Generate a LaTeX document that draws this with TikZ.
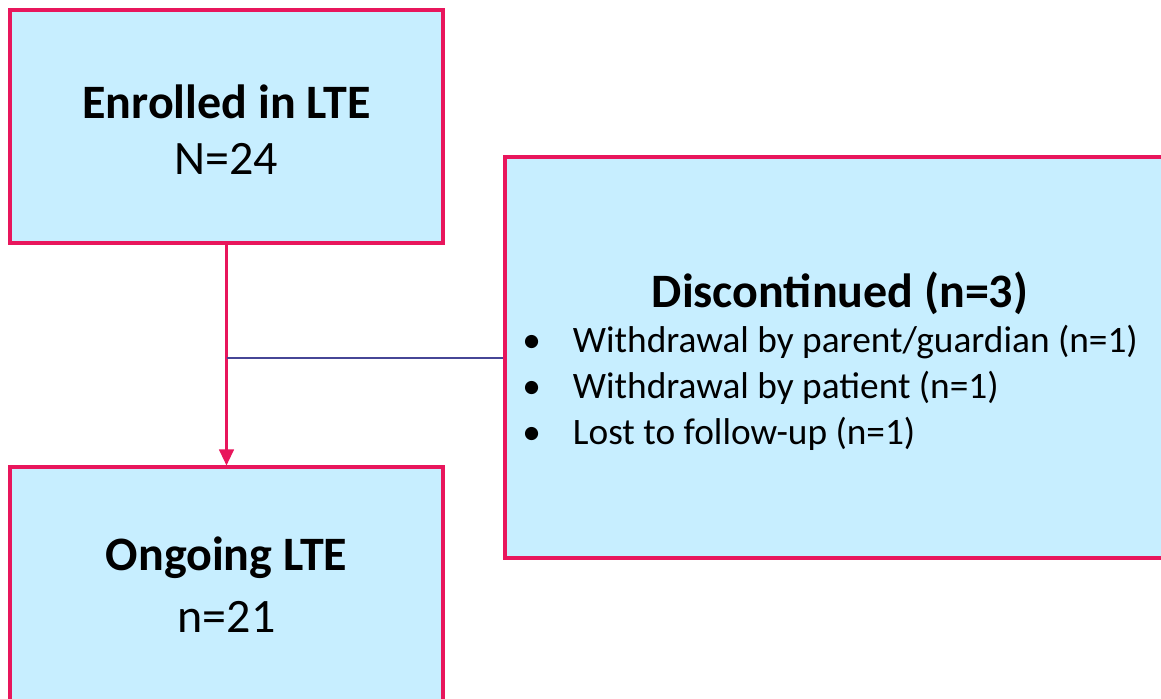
\documentclass[tikz,border=0pt]{standalone}
\usepackage{fontspec}
\setmainfont{Carlito}
\usetikzlibrary{arrows.meta}
\definecolor{boxfill}{RGB}{199,238,255}
\definecolor{boxline}{RGB}{232,22,92}
\definecolor{hline}{RGB}{70,70,150}
\tikzset{
  box/.style={draw=boxline, fill=boxfill, line width=2.3pt, inner sep=0pt},
  title/.style={font=\fontsize{36}{42}\selectfont\bfseries, inner sep=0pt},
  sub/.style={font=\fontsize{36}{42}\selectfont, inner sep=0pt},
  blist/.style={font=\fontsize{28}{34.5}\selectfont, inner sep=0pt, align=left, anchor=west},
  flow/.style={draw=boxline, line width=1.6pt, -{Triangle[length=12pt,width=11pt]}},
}
\newcommand{\bul}{\makebox[38pt][l]{\textbullet}}
\begin{document}
\begin{tikzpicture}[x=0.75pt,y=-0.75pt]
\clip (0,0) rectangle (1161,699);
\fill[white] (0,0) rectangle (1161,699);
\node[box, minimum width=433*0.75pt, minimum height=233*0.75pt] (enrolled) at (226.5,126.5) {};
\node[box, minimum width=670*0.75pt, minimum height=401*0.75pt] (disc) at (840,357.5) {};
\node[box, minimum width=433*0.75pt, minimum height=260*0.75pt] (ongoing) at (226.5,597) {};
\node[title] (t1) at (226.5,102) {Enrolled in LTE};
\node[sub] (n1) at (226.5,159) {N=24};
\node[title] (t2) at (226.5,558) {Ongoing LTE};
\node[sub] (n2) at (226.5,617) {n=21};
\node[title] (t3) at (840,293) {Discontinued (n=3)};
\node[blist] (list) at (522,388) {\bul Withdrawal by parent/guardian (n=1)\\ \bul Withdrawal by patient (n=1)\\ \bul Lost to follow-up (n=1)};
\draw[flow] (enrolled.south) -- (ongoing.north);
\coordinate (j) at (enrolled.south |- disc.west);
\draw[draw=hline, line width=1.5pt] (j) -- (disc.west);
\end{tikzpicture}
\end{document}
